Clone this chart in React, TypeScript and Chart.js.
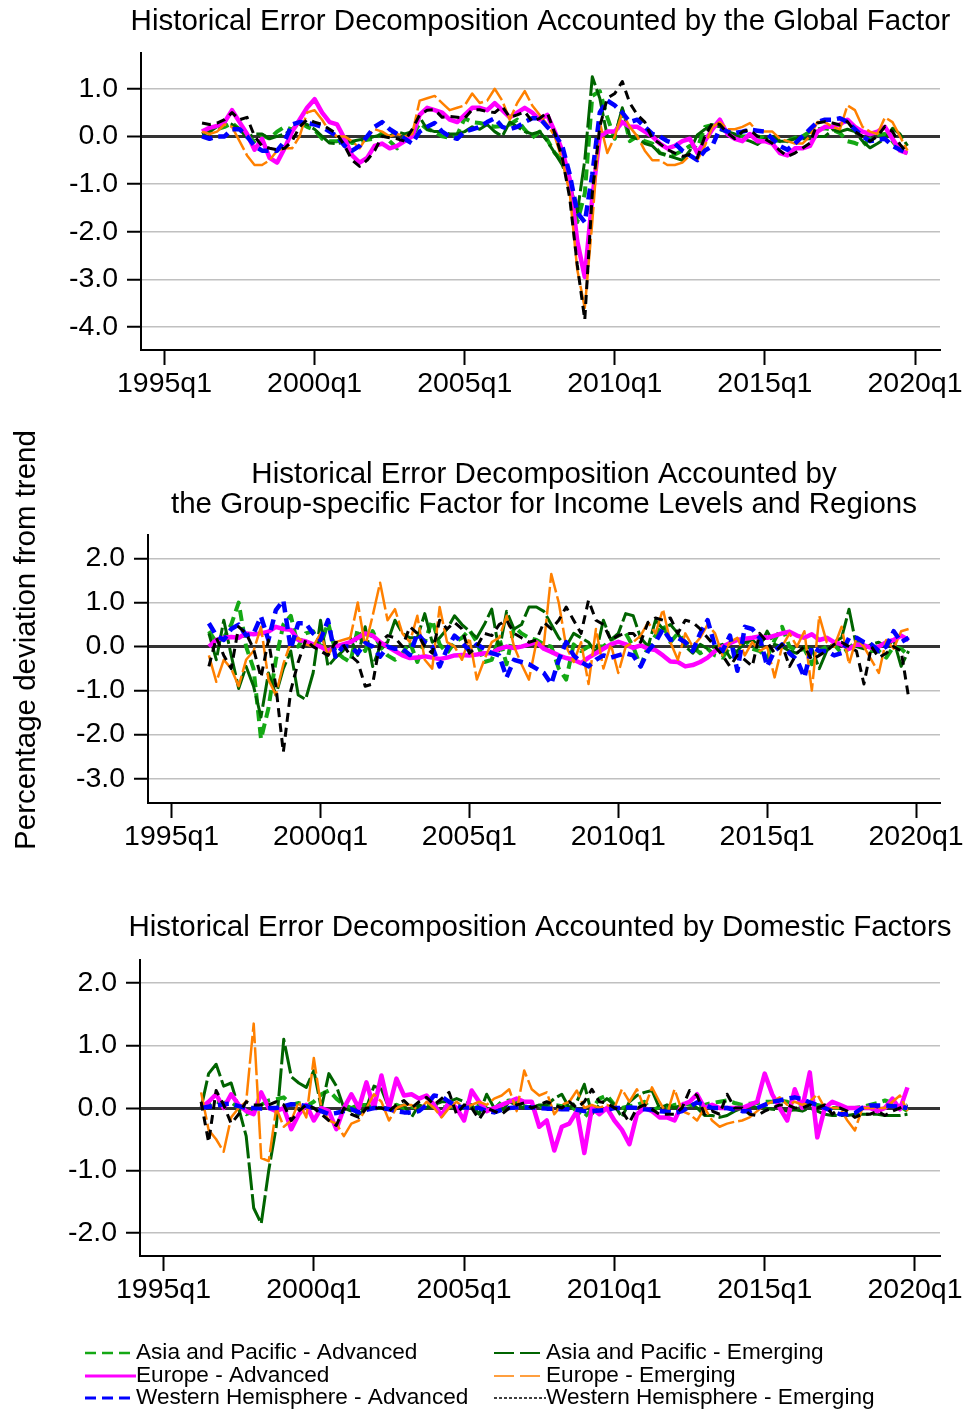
import React, { useEffect, useRef } from 'react';
import { Chart, registerables } from 'chart.js';

Chart.register(...registerables);

const FONT = '"Liberation Sans", Arial, Helvetica, sans-serif';
const W = 968;

// Quarter index counted from 1995q1 = 0; the sample runs 1996q2 .. 2019q4.
const FIRST_QUARTER = 5;
const N_QUARTERS = 95;
const quarterIndex: number[] = Array.from({ length: N_QUARTERS }, (_, k) => FIRST_QUARTER + k);

const xTickValues = [0, 20, 40, 60, 80, 100];
const xTickLabels = ['1995q1', '2000q1', '2005q1', '2010q1', '2015q1', '2020q1'];

const yTicksGlobal = [-4, -3, -2, -1, 0, 1];
const yTicksGroup = [-3, -2, -1, 0, 1, 2];
const yTicksDomestic = [-2, -1, 0, 1, 2];

// ---------- Global factor ----------
const globalAPAdv = [
  0.05, 0.10, 0.15, 0.20, 0.28, 0.15, 0.00, -0.10, 0.03, -0.05,
  0.10, 0.20, 0.14, 0.30, 0.20, 0.14, -0.05, -0.10, -0.10, -0.05,
  -0.14, -0.10, -0.07, -0.05, 0.07, -0.10, -0.25, 0.00, 0.00, 0.28,
  0.15, 0.10, 0.00, -0.03, 0.03, 0.38, 0.30, 0.28, 0.24, 0.20,
  0.22, 0.25, 0.35, 0.14, -0.03, 0.10, -0.07, -0.35, -0.50, -1.00,
  -1.80, -1.20, 0.85, 0.95, 0.40, -0.05, 0.55, -0.10, 0.00, -0.10,
  -0.15, -0.35, -0.40, -0.38, -0.30, -0.20, -0.25, 0.20, 0.24, 0.15,
  0.10, 0.05, 0.00, 0.00, 0.00, -0.03, -0.07, -0.10, -0.10, -0.03,
  0.00, 0.10, 0.15, 0.17, 0.14, 0.07, -0.10, -0.14, -0.20, -0.05,
  0.03, 0.05, -0.10, -0.30, -0.35,
];
const globalAPEm = [
  0.05, 0.10, 0.20, 0.30, 0.25, 0.15, -0.03, 0.05, 0.05, -0.05,
  0.00, 0.05, 0.14, 0.30, 0.25, 0.15, 0.00, -0.14, -0.15, -0.12,
  -0.10, -0.07, -0.05, 0.00, 0.03, 0.00, 0.10, 0.05, 0.10, 0.40,
  0.15, 0.10, 0.10, 0.05, 0.05, 0.10, 0.20, 0.15, 0.25, 0.10,
  0.00, 0.30, 0.20, 0.10, 0.05, 0.10, -0.10, -0.35, -0.60, -1.00,
  -1.60, -0.50, 1.25, 0.80, 0.00, 0.00, 0.60, 0.00, -0.05, -0.15,
  -0.20, -0.35, -0.40, -0.45, -0.50, -0.30, 0.03, 0.15, 0.24, 0.20,
  0.10, 0.05, -0.05, -0.10, -0.17, -0.05, 0.00, -0.10, -0.10, -0.05,
  -0.05, -0.05, 0.00, 0.00, 0.14, 0.10, 0.15, 0.10, -0.10, -0.24,
  -0.15, -0.05, 0.17, 0.05, -0.20,
];
const globalEUAdv = [
  0.10, 0.18, 0.22, 0.30, 0.55, 0.30, 0.05, -0.28, -0.05, -0.45,
  -0.55, -0.25, 0.10, 0.35, 0.60, 0.78, 0.50, 0.30, 0.25, -0.05,
  -0.40, -0.55, -0.45, -0.20, -0.15, -0.25, -0.20, -0.10, 0.00, 0.45,
  0.60, 0.55, 0.50, 0.35, 0.30, 0.45, 0.60, 0.60, 0.55, 0.70,
  0.55, 0.40, 0.50, 0.60, 0.50, 0.35, 0.45, 0.10, -0.30, -0.90,
  -2.20, -2.95, -1.30, 0.00, 0.10, 0.10, 0.30, 0.20, 0.20, 0.10,
  0.00, -0.15, -0.25, -0.20, -0.10, -0.05, -0.35, -0.10, 0.15, 0.35,
  0.05, -0.05, -0.10, 0.05, -0.10, -0.10, -0.15, -0.35, -0.40, -0.25,
  -0.25, -0.20, 0.10, 0.20, 0.20, 0.25, 0.35, 0.20, 0.10, 0.05,
  0.10, 0.20, -0.05, -0.30, -0.35,
];
const globalEUEm = [
  0.10, 0.05, 0.10, 0.25, 0.20, -0.10, -0.40, -0.60, -0.60, -0.50,
  -0.30, -0.25, -0.25, 0.00, 0.50, 0.55, 0.35, 0.10, 0.00, 0.00,
  -0.10, -0.25, 0.00, 0.15, 0.10, 0.00, 0.05, 0.00, 0.05, 0.75,
  0.80, 0.85, 0.70, 0.55, 0.60, 0.65, 0.90, 0.70, 0.75, 1.00,
  0.75, 0.35, 0.70, 0.95, 0.65, 0.45, 0.25, 0.00, -0.50, -1.20,
  -2.80, -3.60, -1.80, 0.30, -0.35, 0.00, 0.50, 0.20, 0.00, -0.30,
  -0.50, -0.50, -0.60, -0.60, -0.55, -0.40, -0.50, -0.20, 0.20, 0.30,
  0.15, 0.15, 0.20, 0.28, 0.10, 0.10, 0.10, -0.05, -0.10, -0.15,
  -0.15, 0.00, 0.30, 0.30, 0.20, 0.15, 0.65, 0.55, 0.20, 0.10,
  0.05, 0.40, 0.30, 0.00, -0.30,
];
const globalWHAdv = [
  0.00, -0.05, 0.00, 0.00, 0.15, 0.15, 0.00, -0.20, -0.30, -0.30,
  -0.30, -0.10, 0.25, 0.30, 0.28, 0.25, 0.20, 0.10, 0.00, -0.20,
  -0.30, -0.20, 0.00, 0.20, 0.30, 0.15, 0.05, -0.05, -0.15, 0.10,
  0.20, 0.28, 0.10, 0.00, -0.05, 0.10, 0.15, 0.20, 0.30, 0.38,
  0.20, 0.15, 0.20, 0.30, 0.38, 0.38, 0.20, 0.05, -0.20, -0.80,
  -1.60, -1.80, -0.80, 0.50, 0.75, 0.65, 0.50, 0.30, 0.35, 0.20,
  0.05, 0.00, -0.10, -0.15, -0.30, -0.40, -0.50, -0.30, -0.20, 0.17,
  0.10, 0.07, 0.10, 0.14, 0.12, 0.10, -0.05, -0.20, -0.28, -0.15,
  0.00, 0.15, 0.30, 0.35, 0.35, 0.38, 0.30, 0.15, 0.00, -0.10,
  -0.07, -0.05, -0.20, -0.28, -0.35,
];
const globalWHEm = [
  0.28, 0.25, 0.28, 0.35, 0.50, 0.35, 0.40, 0.00, -0.20, -0.25,
  -0.28, -0.25, -0.10, 0.20, 0.35, 0.30, 0.25, 0.15, 0.05, -0.20,
  -0.50, -0.63, -0.50, -0.30, 0.00, -0.03, -0.05, -0.10, 0.15, 0.45,
  0.55, 0.56, 0.40, 0.42, 0.40, 0.38, 0.56, 0.56, 0.52, 0.50,
  0.63, 0.40, 0.45, 0.52, 0.31, 0.38, 0.50, 0.07, -0.45, -1.30,
  -2.70, -3.85, -1.20, 0.20, 0.80, 0.90, 1.15, 0.70, 0.45, 0.30,
  -0.05, -0.15, -0.28, -0.35, -0.42, -0.38, -0.45, 0.00, 0.28, 0.25,
  0.07, -0.05, 0.10, 0.14, 0.00, -0.05, -0.15, -0.30, -0.42, -0.35,
  -0.25, -0.14, 0.28, 0.31, 0.28, 0.24, 0.31, 0.10, 0.00, -0.10,
  0.00, 0.21, 0.10, -0.17, -0.35,
];

// ---------- Group-specific factor ----------
const groupAPAdv = [
  0.35, 0.10, 0.20, 0.50, 1.00, 0.00, -0.50, -2.10, -1.40, -0.30,
  0.50, 0.70, 0.00, 0.30, 0.35, 0.00, 0.55, -0.10, -0.25, -0.35,
  0.40, -0.10, 0.35, 0.00, -0.20, -0.30, -0.15, 0.10, -0.35, 0.10,
  0.60, 0.05, -0.15, 0.10, 0.20, 0.38, 0.10, -0.35, -0.30, 0.20,
  -0.40, 0.45, 0.30, 0.20, 0.15, 0.05, 0.00, -0.50, -0.75, 0.05,
  -0.10, 0.00, 0.00, 0.00, 0.15, 0.25, 0.30, 0.00, -0.45, 0.00,
  0.25, 0.50, 0.10, 0.30, 0.10, 0.00, -0.15, -0.05, -0.20, -0.25,
  0.00, -0.15, 0.15, -0.05, -0.10, -0.25, 0.15, 0.45, 0.00, -0.10,
  -0.05, -0.40, -0.10, 0.00, 0.05, -0.15, -0.05, 0.15, 0.00, -0.10,
  -0.10, -0.25, 0.00, -0.05, -0.20,
];
const groupAPEm = [
  0.30, -0.30, 0.60, -0.20, -0.95, -0.45, -0.90, -1.60, -0.60, -1.10,
  -0.50, -0.10, -1.10, -1.20, -0.60, 0.60, -0.45, -0.25, -0.10, 0.20,
  -0.20, 0.45, -0.45, 0.00, 0.10, 0.60, 0.30, 0.20, 0.20, 0.75,
  0.10, 0.20, 0.40, 0.70, 0.50, 0.35, 0.20, 0.50, 0.85, -0.10,
  0.80, 0.40, 0.50, 0.90, 0.90, 0.80, 0.50, 0.20, 0.00, 0.30,
  0.20, 0.10, -0.15, 0.60, 0.15, 0.30, 0.75, 0.70, 0.20, 0.00,
  0.60, 0.40, 0.50, 0.30, 0.00, -0.15, 0.05, -0.05, 0.00, 0.05,
  -0.25, -0.10, 0.10, 0.15, 0.00, 0.35, 0.05, 0.00, -0.10, -0.15,
  0.00, -0.05, -0.50, -0.10, 0.10, 0.20, 0.85, 0.00, -0.05, 0.05,
  0.10, 0.00, 0.15, -0.45, -0.10,
];
const groupEUAdv = [
  0.00, 0.15, 0.20, 0.22, 0.20, 0.30, 0.28, 0.30, 0.34, 0.45,
  0.40, 0.38, 0.15, 0.12, 0.05, 0.00, -0.10, 0.00, 0.05, 0.10,
  0.20, 0.30, 0.25, 0.10, 0.00, -0.10, -0.20, -0.26, -0.25, -0.22,
  -0.25, -0.28, -0.25, -0.20, -0.19, -0.20, -0.18, -0.15, -0.15, -0.05,
  0.00, -0.03, 0.00, 0.05, 0.10, -0.05, -0.12, -0.20, -0.26, -0.30,
  -0.38, -0.25, -0.15, -0.05, 0.05, 0.11, 0.05, -0.03, 0.03, -0.05,
  -0.08, -0.20, -0.34, -0.35, -0.45, -0.42, -0.35, -0.25, -0.10, 0.00,
  0.08, 0.15, 0.18, 0.20, 0.23, 0.20, 0.25, 0.30, 0.34, 0.25,
  0.20, 0.28, 0.15, 0.20, 0.10, 0.05, -0.05, 0.05, 0.03, -0.03,
  0.00, 0.10, 0.15, 0.25, 0.15,
];
const groupEUEm = [
  -0.20, -0.80, -0.30, -0.50, -0.90, -0.30, -0.10, 0.45, -0.75, -1.10,
  -0.40, 0.10, 0.20, 0.05, 0.00, 0.30, -0.20, 0.10, 0.15, 0.20,
  1.00, 0.00, 0.70, 1.45, 0.60, 0.85, 0.30, 0.10, 0.70, -0.30,
  -0.50, 0.90, 0.10, 0.00, -0.30, 0.20, -0.75, -0.30, 0.10, 0.20,
  0.70, 0.00, -0.40, -0.75, 0.10, 0.05, 1.65, 1.00, 0.00, -0.35,
  0.10, -0.85, 0.40, -0.50, 0.05, -0.60, 0.00, 0.10, 0.25, 0.55,
  0.30, 0.85, 0.10, -0.30, 0.30, 0.00, 0.20, 0.50, 0.30, -0.20,
  0.10, 0.20, -0.20, 0.10, -0.10, 0.00, -0.70, 0.00, 0.30, 0.00,
  0.35, -1.00, 0.70, 0.10, 0.00, 0.45, -0.40, 0.20, 0.00, -0.30,
  -0.60, 0.15, -0.05, 0.35, 0.40,
];
const groupWHAdv = [
  0.53, 0.25, 0.15, 0.40, 0.50, 0.25, 0.30, 0.68, 0.15, 0.83,
  1.05, -0.05, 0.53, 0.53, 0.30, 0.15, 0.60, -0.23, 0.00, 0.00,
  -0.15, 0.08, 0.00, -0.23, 0.00, -0.05, -0.05, -0.19, 0.30, 0.10,
  0.00, -0.45, -0.05, 0.25, 0.10, -0.10, 0.05, -0.05, -0.15, -0.20,
  -0.70, -0.30, -0.35, -0.40, -0.50, -0.60, -0.85, -0.30, 0.10, -0.20,
  -0.35, -0.45, -0.30, -0.20, -0.25, -0.20, -0.15, -0.20, -0.45, -0.10,
  0.10, 0.40, 0.15, 0.20, 0.10, -0.10, 0.30, 0.60, 0.00, -0.10,
  0.25, -0.55, 0.45, 0.40, 0.20, -0.45, -0.10, 0.05, -0.15, -0.30,
  -0.70, 0.00, -0.10, -0.10, -0.20, -0.15, 0.20, 0.20, 0.10, 0.05,
  -0.10, 0.00, 0.35, 0.10, 0.20,
];
const groupWHEm = [
  -0.45, 0.20, -0.20, -0.50, 0.45, 0.30, -0.05, -0.70, 0.15, -0.90,
  -2.40, -1.00, -0.35, 0.15, 0.00, -0.10, -0.20, 0.10, 0.05, -0.20,
  -0.35, -0.90, -0.85, 0.10, 0.25, 0.20, 0.00, 0.45, 0.30, 0.00,
  -0.15, 0.60, 0.40, 0.55, 0.40, -0.15, 0.00, 0.30, 0.25, 0.50,
  0.60, 0.30, 0.20, 0.10, 0.15, 0.55, 0.40, 0.60, 0.90, 0.60,
  0.30, 1.05, 0.60, 0.50, 0.15, 0.25, 0.30, 0.30, 0.10, 0.55,
  0.65, 0.60, 0.65, 0.30, 0.60, 0.55, 0.40, 0.20, 0.00, -0.20,
  -0.45, -0.20, -0.30, -0.45, 0.30, 0.10, -0.15, 0.05, -0.45, -0.15,
  0.00, -0.30, -0.20, -0.10, 0.05, 0.10, 0.00, -0.10, -0.85, 0.00,
  -0.25, -0.15, 0.00, -0.10, -1.15,
];

// ---------- Domestic factors ----------
const domAPAdv = [
  0.00, 0.05, 0.10, 0.08, 0.10, 0.00, -0.10, -0.05, 0.05, 0.12,
  0.14, 0.17, 0.05, 0.08, 0.03, 0.10, 0.22, 0.28, 0.15, 0.05,
  0.00, 0.05, 0.05, 0.00, 0.00, 0.00, 0.05, 0.00, 0.02, 0.00,
  0.05, 0.02, 0.00, 0.03, 0.00, 0.00, 0.05, 0.03, 0.00, -0.02,
  0.10, 0.12, 0.08, 0.03, 0.00, 0.02, 0.03, 0.05, 0.03, 0.05,
  -0.05, -0.15, -0.02, 0.15, 0.20, 0.05, 0.00, 0.03, 0.05, 0.10,
  -0.05, 0.02, 0.00, 0.05, 0.07, 0.05, 0.03, 0.05, 0.08, 0.10,
  0.12, 0.08, 0.05, 0.07, 0.08, 0.10, 0.10, 0.12, 0.10, 0.05,
  0.03, 0.05, 0.05, 0.02, 0.00, 0.00, 0.00, 0.00, 0.02, 0.05,
  0.08, 0.12, 0.08, 0.03, -0.05,
];
const domAPEm = [
  0.00, 0.55, 0.70, 0.35, 0.40, 0.00, -0.45, -1.60, -1.85, -1.00,
  -0.30, 1.10, 0.50, 0.40, 0.33, 0.60, 0.00, 0.55, 0.35, 0.00,
  -0.05, -0.10, 0.00, 0.35, 0.30, 0.00, 0.00, 0.05, -0.15, 0.05,
  0.00, 0.05, 0.10, 0.10, 0.15, 0.10, 0.05, -0.10, 0.22, 0.00,
  -0.05, 0.10, 0.05, 0.00, 0.00, 0.05, 0.05, 0.15, 0.22, 0.00,
  0.10, 0.38, -0.10, 0.05, 0.15, 0.05, -0.15, 0.10, 0.20, 0.25,
  0.28, 0.00, 0.05, 0.00, 0.05, 0.10, 0.00, -0.12, -0.12, -0.15,
  -0.12, -0.05, 0.00, 0.05, 0.00, 0.00, -0.02, -0.03, -0.05, -0.03,
  -0.05, 0.00, -0.05, -0.10, -0.12, -0.12, -0.12, -0.10, -0.10, -0.10,
  -0.10, -0.12, -0.12, -0.12, -0.10,
];
const domEUAdv = [
  0.00, 0.10, 0.22, 0.00, 0.22, 0.05, -0.05, -0.10, 0.25, 0.00,
  -0.05, 0.00, -0.34, -0.10, 0.05, -0.20, 0.00, -0.05, -0.34, 0.00,
  0.22, 0.00, 0.41, 0.00, 0.52, 0.00, 0.47, 0.20, 0.22, 0.15,
  0.20, 0.05, -0.12, 0.10, 0.00, -0.20, 0.28, 0.10, -0.05, 0.00,
  0.05, 0.10, 0.15, 0.10, 0.10, -0.30, -0.20, -0.68, -0.30, -0.25,
  -0.05, -0.72, 0.00, -0.10, 0.00, -0.20, -0.35, -0.58, -0.10, 0.00,
  -0.05, -0.15, -0.15, -0.20, 0.05, 0.10, 0.22, 0.00, 0.05, 0.00,
  0.00, 0.00, 0.00, 0.05, 0.10, 0.55, 0.22, 0.00, -0.20, 0.30,
  0.00, 0.57, -0.47, 0.00, 0.10, 0.05, 0.00, 0.00, 0.00, 0.00,
  -0.05, 0.00, 0.15, -0.02, 0.33,
];
const domEUEm = [
  0.25, -0.35, -0.50, -0.70, -0.15, 0.00, 0.10, 1.35, -0.80, -0.85,
  0.00, -0.30, -0.20, 0.10, -0.15, 0.80, 0.00, -0.20, -0.25, -0.45,
  -0.25, -0.20, 0.00, 0.22, 0.10, -0.20, 0.00, 0.05, 0.05, -0.05,
  0.10, 0.00, -0.15, 0.00, 0.10, 0.00, 0.05, 0.10, 0.05, 0.15,
  0.20, 0.30, -0.05, 0.60, 0.30, 0.20, 0.25, -0.10, 0.05, 0.10,
  0.28, 0.00, 0.05, 0.00, 0.05, 0.00, 0.30, 0.10, 0.30, 0.00,
  0.33, 0.10, -0.10, 0.30, -0.05, -0.10, -0.20, 0.00, -0.20, -0.30,
  -0.25, -0.22, -0.20, -0.15, -0.05, 0.05, 0.10, 0.17, 0.05, 0.10,
  0.05, 0.10, 0.22, 0.00, 0.00, 0.00, -0.20, -0.36, 0.00, 0.00,
  0.00, 0.00, 0.10, 0.20, -0.05,
];
const domWHAdv = [
  0.00, 0.02, 0.04, 0.06, 0.07, 0.03, 0.00, 0.00, -0.01, 0.00,
  0.00, 0.03, 0.06, 0.05, 0.03, 0.00, -0.05, -0.10, -0.08, -0.05,
  -0.02, -0.07, -0.03, 0.00, 0.00, -0.02, -0.05, -0.07, -0.07, -0.05,
  0.05, 0.20, 0.18, 0.10, 0.03, 0.01, 0.00, 0.00, -0.05, -0.07,
  -0.03, 0.00, 0.01, 0.01, 0.01, 0.00, -0.01, -0.01, -0.02, -0.02,
  -0.03, -0.05, -0.05, -0.04, -0.03, 0.00, 0.00, 0.01, 0.00, -0.02,
  -0.03, -0.05, -0.06, -0.08, -0.05, 0.02, 0.09, 0.05, 0.00, 0.00,
  0.00, -0.03, -0.05, -0.05, 0.00, 0.05, 0.10, 0.12, 0.15, 0.17,
  0.14, 0.09, 0.05, 0.00, -0.05, -0.10, -0.10, -0.08, 0.00, 0.04,
  0.04, 0.04, 0.03, 0.02, 0.00,
];
const domWHEm = [
  0.10, -0.55, 0.28, 0.05, -0.25, -0.10, 0.10, 0.05, 0.05, 0.05,
  0.10, 0.05, -0.20, -0.05, 0.05, 0.00, -0.10, -0.20, -0.28, 0.00,
  -0.10, -0.15, 0.00, 0.00, 0.00, -0.05, 0.05, 0.12, 0.00, 0.10,
  0.17, 0.05, 0.15, 0.25, -0.10, 0.05, 0.00, -0.18, 0.00, -0.05,
  -0.10, 0.00, 0.05, 0.08, 0.00, 0.05, 0.10, 0.05, 0.00, 0.10,
  0.00, 0.10, 0.30, 0.10, 0.08, 0.00, -0.05, -0.23, 0.00, 0.05,
  -0.02, -0.10, -0.10, -0.10, 0.00, 0.28, 0.20, -0.10, -0.05, -0.10,
  0.22, 0.00, 0.00, -0.10, -0.12, -0.05, 0.00, 0.05, 0.05, 0.00,
  0.00, 0.05, 0.00, 0.05, -0.10, 0.00, -0.05, -0.15, -0.10, -0.10,
  -0.05, -0.12, -0.05, 0.00, 0.05,
];

// Line styles for the six country groups (plot order = legend order).
type SeriesStyle = {
  label: string;
  color: string;
  width: number;
  dash: number[];
  legendWidth: number;
  legendDash: number[];
};

const SERIES: SeriesStyle[] = [
  { label: 'Asia and Pacific - Advanced', color: '#14a814', width: 4, dash: [11, 6], legendWidth: 2.5, legendDash: [11, 6] },
  { label: 'Asia and Pacific - Emerging', color: '#006400', width: 3, dash: [28, 4], legendWidth: 2, legendDash: [20, 6] },
  { label: 'Europe - Advanced', color: '#ff00ff', width: 4.5, dash: [], legendWidth: 3, legendDash: [] },
  { label: 'Europe - Emerging', color: '#ff8000', width: 2.5, dash: [28, 4], legendWidth: 1.5, legendDash: [20, 6] },
  { label: 'Western Hemisphere - Advanced', color: '#0000ff', width: 4.5, dash: [11, 6], legendWidth: 3, legendDash: [11, 6] },
  { label: 'Western Hemisphere - Emerging', color: '#000000', width: 3, dash: [9, 6], legendWidth: 1.5, legendDash: [3, 2] },
];

type PanelSpec = {
  top: number;
  height: number;
  axisLeft: number;
  padTop: number;
  padBottom: number;
  xMin: number;
  xMax: number;
  yMin: number;
  yMax: number;
  yTicks: number[];
  titleLines: string[];
  titleY: number[];
  values: number[][];
  yTitle?: { text: string; x: number; y: number };
  legend?: { rows: number[]; cols: { lineX: number; textX: number }[] };
};

const PANELS: PanelSpec[] = [
  {
    top: 0, height: 420, axisLeft: 141, padTop: 53, padBottom: 10,
    xMin: -3.13, xMax: 103.33, yMin: -4.483, yMax: 1.75, yTicks: yTicksGlobal,
    titleLines: ['Historical Error Decomposition Accounted by the Global Factor'],
    titleY: [22],
    values: [globalAPAdv, globalAPEm, globalEUAdv, globalEUEm, globalWHAdv, globalWHEm],
  },
  {
    top: 430, height: 440, axisLeft: 148, padTop: 105, padBottom: 7,
    xMin: -3.18, xMax: 103.22, yMin: -3.553, yMax: 2.535, yTicks: yTicksGroup,
    titleLines: [
      'Historical Error Decomposition Accounted by',
      'the Group-specific Factor for Income Levels and Regions',
    ],
    titleY: [45, 75],
    values: [groupAPAdv, groupAPEm, groupEUAdv, groupEUEm, groupWHAdv, groupWHEm],
    yTitle: { text: 'Percentage deviation from trend', x: 27, y: 210 },
  },
  {
    top: 880, height: 531, axisLeft: 140, padTop: 80, padBottom: 95,
    xMin: -3.13, xMax: 103.33, yMin: -2.368, yMax: 2.368, yTicks: yTicksDomestic,
    titleLines: ['Historical Error Decomposition Accounted by Domestic Factors'],
    titleY: [48],
    values: [domAPAdv, domAPEm, domEUAdv, domEUEm, domWHAdv, domWHEm],
    legend: {
      rows: [473, 496, 518],
      cols: [{ lineX: 85, textX: 136 }, { lineX: 494, textX: 546 }],
    },
  },
];

const TITLE_SIZE = 29.5;
const TICK_SIZE = 28.5;
const LEGEND_SIZE = 22.6;

// Panel titles, the shared y title and the two-column key, drawn onto the canvas.
const decorPlugin = {
  id: 'panelDecor',
  afterDraw(chart: any, _args: any, opts: any) {
    const { ctx, chartArea } = chart;
    ctx.save();
    ctx.fillStyle = '#000';
    ctx.textAlign = 'center';
    ctx.textBaseline = 'middle';
    ctx.font = `${TITLE_SIZE}px ${FONT}`;
    const cx = (chartArea.left + chartArea.right) / 2;
    (opts.titleLines as string[]).forEach((t, k) => ctx.fillText(t, cx, opts.titleY[k]));

    if (opts.yTitle) {
      ctx.save();
      ctx.translate(opts.yTitle.x, opts.yTitle.y);
      ctx.rotate(-Math.PI / 2);
      ctx.fillText(opts.yTitle.text, 0, 0);
      ctx.restore();
    }

    if (opts.legend) {
      const { rows, cols } = opts.legend;
      ctx.font = `${LEGEND_SIZE}px ${FONT}`;
      ctx.textAlign = 'left';
      SERIES.forEach((s, k) => {
        const col = cols[k % 2];
        const y = rows[Math.floor(k / 2)];
        ctx.save();
        ctx.strokeStyle = s.color;
        ctx.lineWidth = s.legendWidth;
        ctx.setLineDash(s.legendDash);
        ctx.beginPath();
        ctx.moveTo(col.lineX, y);
        ctx.lineTo(col.textX, y);
        ctx.stroke();
        ctx.restore();
        ctx.fillStyle = '#000';
        ctx.fillText(s.label, col.textX, y);
      });
    }
    ctx.restore();
  },
};

function buildConfig(p: PanelSpec): any {
  const datasets = SERIES.map((s, k) => ({
    label: s.label,
    data: quarterIndex.map((q, j) => ({ x: q, y: p.values[k][j] })),
    borderColor: s.color,
    backgroundColor: s.color,
    borderWidth: s.width,
    borderDash: s.dash,
    borderJoinStyle: 'round',
    borderCapStyle: 'butt',
    pointRadius: 0,
    tension: 0,
    fill: false,
    order: SERIES.length - 1 - k,
  }));

  return {
    type: 'line',
    data: { datasets },
    plugins: [decorPlugin],
    options: {
      animation: false,
      responsive: false,
      devicePixelRatio: 1,
      events: [],
      layout: { padding: { top: p.padTop, right: 28, bottom: p.padBottom, left: 0 } },
      plugins: {
        legend: { display: false },
        tooltip: { enabled: false },
        title: { display: false },
        panelDecor: {
          titleLines: p.titleLines,
          titleY: p.titleY,
          yTitle: p.yTitle,
          legend: p.legend,
        },
      },
      scales: {
        x: {
          type: 'linear',
          min: p.xMin,
          max: p.xMax,
          afterBuildTicks: (scale: any) => {
            scale.ticks = xTickValues.map((v) => ({ value: v }));
          },
          afterFit: (scale: any) => {
            scale.height = 60;
          },
          ticks: {
            autoSkip: false,
            maxRotation: 0,
            padding: 2,
            color: '#000',
            font: { family: FONT, size: TICK_SIZE },
            callback: (v: number) => xTickLabels[xTickValues.indexOf(v)] ?? '',
          },
          grid: {
            drawOnChartArea: false,
            drawTicks: true,
            tickLength: 15,
            tickColor: '#000',
            tickWidth: 2,
          },
          border: { display: true, color: '#000', width: 2 },
        },
        y: {
          type: 'linear',
          min: p.yMin,
          max: p.yMax,
          afterBuildTicks: (scale: any) => {
            scale.ticks = p.yTicks.map((v) => ({ value: v }));
          },
          afterFit: (scale: any) => {
            scale.width = p.axisLeft;
          },
          ticks: {
            padding: 9,
            color: '#000',
            font: { family: FONT, size: TICK_SIZE },
            callback: (v: number) => Number(v).toFixed(1),
          },
          grid: {
            color: (c: any) => (c.tick && c.tick.value === 0 ? '#333333' : '#c0c0c0'),
            lineWidth: (c: any) => (c.tick && c.tick.value === 0 ? 3 : 1.5),
            drawTicks: true,
            tickLength: 14,
            tickColor: '#000',
            tickWidth: 2,
          },
          border: { display: true, color: '#000', width: 2 },
        },
      },
    },
  };
}

function Panel({ spec }: { spec: PanelSpec }) {
  const ref = useRef<HTMLCanvasElement | null>(null);
  useEffect(() => {
    if (!ref.current) return;
    const chart = new Chart(ref.current, buildConfig(spec));
    return () => chart.destroy();
  }, [spec]);
  return (
    <canvas
      ref={ref}
      width={W}
      height={spec.height}
      style={{ position: 'absolute', left: 0, top: spec.top, width: W, height: spec.height }}
    />
  );
}

export default function App() {
  return (
    <div style={{ position: 'absolute', left: 0, top: 0, width: W, height: 1411, background: '#fff', overflow: 'hidden' }}>
      {PANELS.map((p, k) => (
        <Panel key={k} spec={p} />
      ))}
    </div>
  );
}
